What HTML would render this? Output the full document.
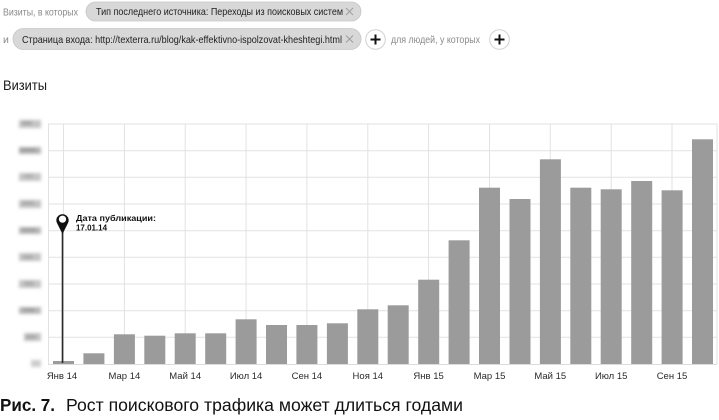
<!DOCTYPE html>
<html><head><meta charset="utf-8"><style>
html,body{margin:0;padding:0;background:#fff;}
svg{display:block;}
</style></head><body>
<svg width="719" height="420" viewBox="0 0 719 420" xmlns="http://www.w3.org/2000/svg" font-family="'Liberation Sans', Arial, sans-serif">
<defs>
<filter id="bl" x="-30%" y="-100%" width="160%" height="300%"><feGaussianBlur stdDeviation="1.6"/></filter>
</defs>
<!-- header -->
<text x="3" y="15.5" font-size="10.5" fill="#8a8a8a" textLength="75" lengthAdjust="spacingAndGlyphs">Визиты, в которых</text>
<rect x="86" y="2" width="275" height="19" rx="9.5" fill="#d8d8d8" stroke="#c6c6c6" stroke-width="0.8"/>
<text x="96" y="15" font-size="10.5" fill="#1e1e1e" textLength="247" lengthAdjust="spacingAndGlyphs">Тип последнего источника: Переходы из поисковых систем</text>
<g stroke="#9a9a9a" stroke-width="0.9"><line x1="346" y1="8" x2="353" y2="15"/><line x1="353" y1="8" x2="346" y2="15"/></g>

<text x="3" y="43" font-size="10.5" fill="#8a8a8a">и</text>
<rect x="13" y="28.5" width="348" height="21" rx="10.5" fill="#d8d8d8" stroke="#c6c6c6" stroke-width="0.8"/>
<text x="22" y="43" font-size="10.5" fill="#1e1e1e" textLength="320" lengthAdjust="spacingAndGlyphs">Страница входа: http://texterra.ru/blog/kak-effektivno-ispolzovat-kheshtegi.html</text>
<g stroke="#9a9a9a" stroke-width="0.9"><line x1="346" y1="35.5" x2="353" y2="42.5"/><line x1="353" y1="35.5" x2="346" y2="42.5"/></g>

<circle cx="375.5" cy="39.5" r="9.8" fill="#fff" stroke="#cfcfcf" stroke-width="1"/>
<g stroke="#111" stroke-width="2"><line x1="370.5" y1="39.5" x2="380.5" y2="39.5"/><line x1="375.5" y1="34.5" x2="375.5" y2="44.5"/></g>
<text x="391" y="43" font-size="10.5" fill="#8a8a8a" textLength="89" lengthAdjust="spacingAndGlyphs">для людей, у которых</text>
<circle cx="499.5" cy="39.5" r="9.8" fill="#fff" stroke="#cfcfcf" stroke-width="1"/>
<g stroke="#111" stroke-width="2"><line x1="494.5" y1="39.5" x2="504.5" y2="39.5"/><line x1="499.5" y1="34.5" x2="499.5" y2="44.5"/></g>

<text x="3" y="90" font-size="14" fill="#1a1a1a" textLength="44" lengthAdjust="spacingAndGlyphs">Визиты</text>

<!-- grid -->
<g stroke="#e2e2e2" stroke-width="1" fill="none">
<line x1="48" y1="124" x2="717" y2="124"/>
<line x1="48" y1="150.7" x2="717" y2="150.7"/>
<line x1="48" y1="177.3" x2="717" y2="177.3"/>
<line x1="48" y1="204" x2="717" y2="204"/>
<line x1="48" y1="230.7" x2="717" y2="230.7"/>
<line x1="48" y1="257.3" x2="717" y2="257.3"/>
<line x1="48" y1="284" x2="717" y2="284"/>
<line x1="48" y1="310.7" x2="717" y2="310.7"/>
<line x1="48" y1="337.3" x2="717" y2="337.3"/>
<line x1="48.5" y1="124" x2="48.5" y2="364"/>
<line x1="717" y1="124" x2="717" y2="364"/>
<line x1="63.5" y1="124" x2="63.5" y2="364"/>
<line x1="124.4" y1="124" x2="124.4" y2="364"/>
<line x1="185.2" y1="124" x2="185.2" y2="364"/>
<line x1="246.1" y1="124" x2="246.1" y2="364"/>
<line x1="306.9" y1="124" x2="306.9" y2="364"/>
<line x1="367.8" y1="124" x2="367.8" y2="364"/>
<line x1="428.6" y1="124" x2="428.6" y2="364"/>
<line x1="489.5" y1="124" x2="489.5" y2="364"/>
<line x1="550.3" y1="124" x2="550.3" y2="364"/>
<line x1="611.2" y1="124" x2="611.2" y2="364"/>
<line x1="672" y1="124" x2="672" y2="364"/>
</g>

<!-- blurred y labels -->
<g filter="url(#bl)">
<rect x="19" y="120" width="22" height="8" fill="#c4c4c4"/><rect x="22" y="121" width="10" height="4" fill="#a6a6a6"/>
<rect x="19" y="147" width="22" height="7" fill="#b6b6b6"/><rect x="20" y="148.5" width="16" height="3" fill="#999"/>
<rect x="19" y="173" width="22" height="8" fill="#c6c6c6"/><rect x="24" y="174" width="9" height="4" fill="#b0b0b0"/>
<rect x="19" y="200" width="22" height="8" fill="#c2c2c2"/><rect x="22" y="201" width="12" height="4" fill="#aaa"/>
<rect x="19" y="227" width="22" height="7" fill="#b8b8b8"/><rect x="22" y="228.5" width="14" height="3" fill="#9c9c9c"/>
<rect x="19" y="253" width="22" height="8" fill="#c4c4c4"/><rect x="23" y="255" width="10" height="4" fill="#acacac"/>
<rect x="19" y="280" width="22" height="8" fill="#c6c6c6"/><rect x="24" y="281" width="10" height="5" fill="#aeaeae"/>
<rect x="19" y="307" width="22" height="7" fill="#bababa"/><rect x="23" y="308.5" width="12" height="3" fill="#9a9a9a"/>
<rect x="24" y="333" width="17" height="8" fill="#c2c2c2"/><rect x="26" y="335" width="10" height="4" fill="#a8a8a8"/>
<rect x="31" y="360" width="10" height="7" fill="#cdcdcd"/>
</g>

<!-- bars -->
<g fill="#9b9b9b">
<rect x="53" y="361" width="21" height="3"/>
<rect x="83.4" y="353.3" width="21" height="10.7"/>
<rect x="113.9" y="334.3" width="21" height="29.7"/>
<rect x="144.3" y="335.7" width="21" height="28.3"/>
<rect x="174.7" y="333.3" width="21" height="30.7"/>
<rect x="205.2" y="333.3" width="21" height="30.7"/>
<rect x="235.6" y="319.3" width="21" height="44.7"/>
<rect x="266" y="325" width="21" height="39"/>
<rect x="296.4" y="325" width="21" height="39"/>
<rect x="326.9" y="323.3" width="21" height="40.7"/>
<rect x="357.3" y="309.3" width="21" height="54.7"/>
<rect x="387.7" y="305.3" width="21" height="58.7"/>
<rect x="418.2" y="279.7" width="21" height="84.3"/>
<rect x="448.6" y="240.3" width="21" height="123.7"/>
<rect x="479" y="187.7" width="21" height="176.3"/>
<rect x="509.5" y="199" width="21" height="165"/>
<rect x="539.9" y="159.3" width="21" height="204.7"/>
<rect x="570.3" y="187.7" width="21" height="176.3"/>
<rect x="600.7" y="189.3" width="21" height="174.7"/>
<rect x="631.2" y="181" width="21" height="183"/>
<rect x="661.6" y="190.3" width="21" height="173.7"/>
<rect x="692" y="139.3" width="21" height="224.7"/>
</g>
<line x1="48" y1="364.5" x2="717" y2="364.5" stroke="#dcdcdc" stroke-width="1"/>

<!-- marker -->
<line x1="62.5" y1="228" x2="62.5" y2="363" stroke="#2a2a2a" stroke-width="1.6"/>
<path d="M62.5 234 L57.2 223.5 A6.2 6.2 0 1 1 67.8 223.5 Z" fill="#111"/>
<circle cx="62.5" cy="219.2" r="3.6" fill="#fff"/>
<text x="76" y="221" font-size="8.5" font-weight="bold" fill="#111" textLength="80" lengthAdjust="spacingAndGlyphs">Дата публикации:</text>
<text x="76" y="230.5" font-size="8.5" font-weight="bold" fill="#111" textLength="31" lengthAdjust="spacingAndGlyphs">17.01.14</text>

<!-- x labels -->
<g font-size="9.5" fill="#2a2a2a" text-anchor="middle">
<text x="62" y="379">Янв 14</text>
<text x="124.4" y="379">Мар 14</text>
<text x="185.2" y="379">Май 14</text>
<text x="246.1" y="379">Июл 14</text>
<text x="306.9" y="379">Сен 14</text>
<text x="367.8" y="379">Ноя 14</text>
<text x="428.6" y="379">Янв 15</text>
<text x="489.5" y="379">Мар 15</text>
<text x="550.3" y="379">Май 15</text>
<text x="611.2" y="379">Июл 15</text>
<text x="672" y="379">Сен 15</text>
</g>

<!-- caption -->
<text x="0" y="411" font-size="17.5" font-weight="bold" fill="#111" textLength="55" lengthAdjust="spacingAndGlyphs">Рис. 7.</text>
<text x="66" y="411" font-size="17.5" fill="#111" textLength="397" lengthAdjust="spacingAndGlyphs">Рост поискового трафика может длиться годами</text>
</svg>
</body></html>
